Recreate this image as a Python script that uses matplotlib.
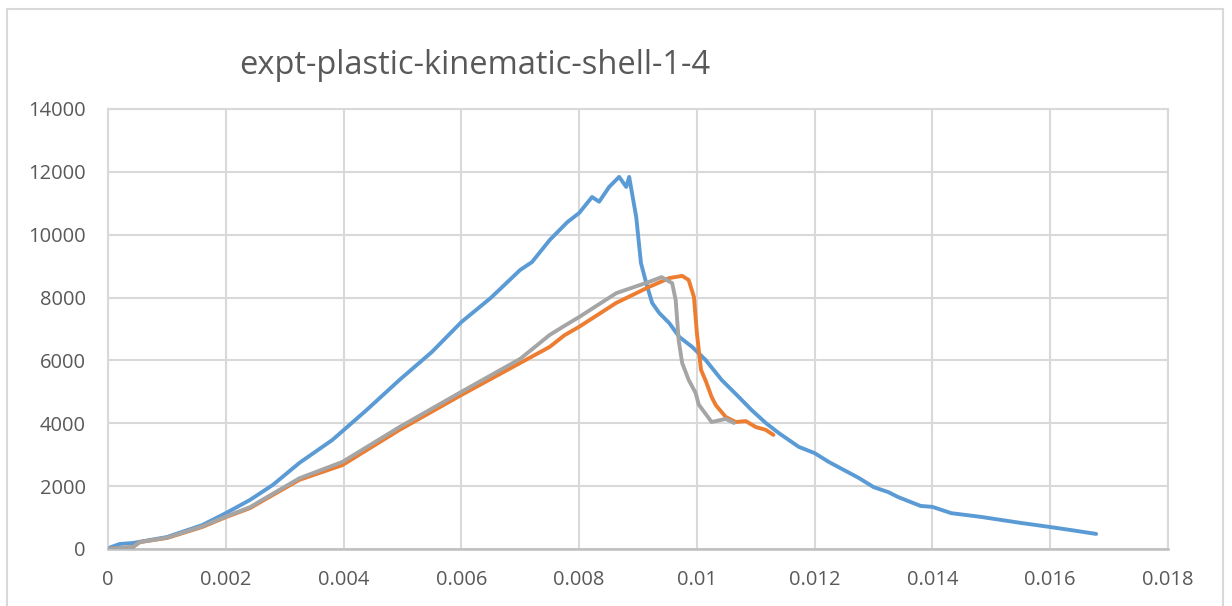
import matplotlib
matplotlib.use("Agg")
import matplotlib.pyplot as plt
from matplotlib.patches import Rectangle

plt.rcParams['font.family'] = ['Open Sans', 'DejaVu Sans']

title = "expt-plastic-kinematic-shell-1-4"

x_blue = [0, 0.00005, 0.0002, 0.00042, 0.001, 0.0016, 0.00201, 0.00241, 0.0028,
          0.00325, 0.00381, 0.00439, 0.00495, 0.0055, 0.006, 0.0065, 0.007, 0.0072,
          0.0075, 0.0078, 0.008, 0.00822, 0.00834, 0.00851, 0.00868, 0.0088, 0.00885,
          0.00897, 0.00905, 0.00914, 0.00924, 0.00936, 0.00953, 0.0097, 0.00992,
          0.01015, 0.01042, 0.01071, 0.01093, 0.01117, 0.01139, 0.01173, 0.012,
          0.01224, 0.0125, 0.01275, 0.013, 0.01325, 0.01342, 0.0138, 0.014, 0.01432,
          0.01483, 0.0155, 0.01596, 0.01636, 0.01678]
y_blue = [0, 60, 160, 190, 380, 760, 1150, 1560, 2040, 2740, 3470, 4420, 5380, 6270,
          7220, 7990, 8880, 9130, 9830, 10400, 10690, 11200, 11050, 11520, 11840,
          11520, 11840, 10560, 9100, 8460, 7830, 7510, 7190, 6750, 6430, 6010, 5380,
          4840, 4420, 4010, 3690, 3250, 3050, 2770, 2510, 2260, 1970, 1810, 1650,
          1370, 1340, 1140, 1020, 830, 710, 600, 480]

x_orange = [0, 0.00042, 0.00054, 0.001, 0.0016, 0.00201, 0.00241, 0.0028, 0.00325,
            0.00398, 0.00495, 0.006, 0.007, 0.0075, 0.00775, 0.008, 0.00863, 0.00919,
            0.00953, 0.00975, 0.00986, 0.00995, 0.01, 0.01007, 0.01015, 0.01025,
            0.01032, 0.01049, 0.01066, 0.01083, 0.011, 0.01117, 0.0113]
y_orange = [0, 60, 220, 350, 700, 1020, 1300, 1720, 2200, 2670, 3790, 4900, 5920,
            6430, 6800, 7070, 7830, 8340, 8620, 8690, 8560, 8020, 6870, 5700, 5350,
            4840, 4580, 4200, 4040, 4070, 3880, 3790, 3630]

x_gray = [0, 0.00042, 0.00054, 0.001, 0.0016, 0.00201, 0.00241, 0.0028, 0.00325,
          0.00398, 0.00495, 0.006, 0.007, 0.0075, 0.00775, 0.008, 0.00863, 0.00919,
          0.0094, 0.00958, 0.00964, 0.00969, 0.00975, 0.00986, 0.00998, 0.01003,
          0.01025, 0.01049, 0.01063]
y_gray = [0, 60, 220, 360, 720, 1040, 1330, 1760, 2250, 2770, 3880, 5000, 6050, 6810,
          7100, 7380, 8140, 8500, 8650, 8460, 7920, 6650, 5920, 5380, 4960, 4600,
          4040, 4140, 4010]

x_ticks = [0, 0.002, 0.004, 0.006, 0.008, 0.01, 0.012, 0.014, 0.016, 0.018]
x_tick_labels = ["0", "0.002", "0.004", "0.006", "0.008", "0.01", "0.012", "0.014",
                 "0.016", "0.018"]
y_ticks = [0, 2000, 4000, 6000, 8000, 10000, 12000, 14000]
y_tick_labels = ["0", "2000", "4000", "6000", "8000", "10000", "12000", "14000"]

W, H = 1232, 606
fig = plt.figure(figsize=(W / 100, H / 100), dpi=100)
ax = fig.add_axes([108 / W, 1 - 549 / H, 1060 / W, 440 / H])

grid_c = "#d9d9d9"
text_c = "#595959"

line_kw = dict(lw=2.8, solid_joinstyle="round", solid_capstyle="round", zorder=3)
ax.plot(x_blue, y_blue, color="#5B9BD5", **line_kw)
ax.plot(x_orange, y_orange, color="#ED7D31", **line_kw)
ax.plot(x_gray, y_gray, color="#A5A5A5", **line_kw)

ax.set_xlim(0, 0.018)
ax.set_ylim(0, 14000)
ax.set_xticks(x_ticks)
ax.set_xticklabels(x_tick_labels)
ax.set_yticks(y_ticks)
ax.set_yticklabels(y_tick_labels)
ax.grid(True, color=grid_c, lw=1.5, zorder=0)
ax.set_axisbelow(True)
ax.tick_params(axis="both", length=0, labelsize=14.5, labelcolor=text_c)
ax.tick_params(axis="x", pad=15)
ax.tick_params(axis="y", pad=16)
for side in ("top", "right", "left"):
    ax.spines[side].set_color(grid_c)
    ax.spines[side].set_linewidth(1.5)
ax.spines["bottom"].set_color("#bfbfbf")
ax.spines["bottom"].set_linewidth(1.8)

fig.text(475 / W, 1 - 74 / H, title, ha="center", va="baseline", fontsize=23.5,
         color=text_c)

# chart frame
fig.patches.append(Rectangle((7 / W, -0.05), (1223 - 7) / W, 1 - 9 / H + 0.05,
                             transform=fig.transFigure, fill=False,
                             edgecolor=grid_c, lw=1.5))

fig.savefig("out.png", dpi=100, facecolor="white")
